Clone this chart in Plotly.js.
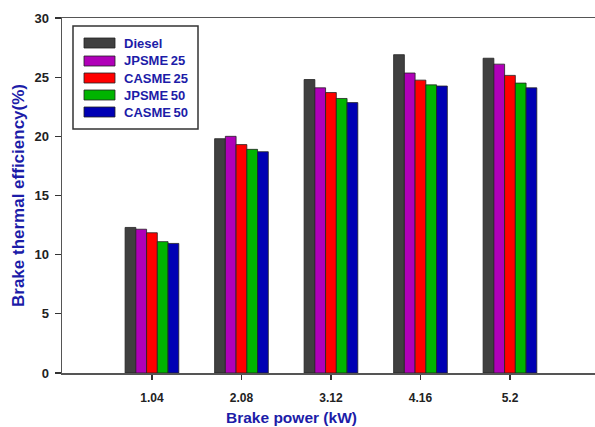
<!DOCTYPE html>
<html>
<head>
<meta charset="utf-8">
<script src="https://cdn.plot.ly/plotly-3.0.1.min.js"></script>
<style>html,body{margin:0;padding:0;background:#fff;overflow:hidden}</style>
</head>
<body>
<div id="chart" style="width:595px;height:427px"></div>
<script>
const categories = ["1.04", "2.08", "3.12", "4.16", "5.2"];
const seriesNames = ["Diesel", "JPSME 25", "CASME 25", "JPSME 50", "CASME 50"];
const diesel  = [12.3, 19.8, 24.8, 26.9, 26.6];
const jpsme25 = [12.15, 20.0, 24.1, 25.35, 26.1];
const casme25 = [11.85, 19.3, 23.7, 24.75, 25.15];
const jpsme50 = [11.1, 18.9, 23.2, 24.35, 24.5];
const casme50 = [10.95, 18.7, 22.85, 24.25, 24.1];
const seriesValues = [diesel, jpsme25, casme25, jpsme50, casme50];
const colors = ["#404040", "#b000b8", "#ff0000", "#00b400", "#0000b4"];
const yTicks = [0, 5, 10, 15, 20, 25, 30];

const titleBlue = "#1c1ca8";
const fontFam = "Liberation Sans, Arial, sans-serif";

const traces = seriesNames.map((n, i) => ({
  type: "bar",
  name: n,
  x: categories,
  y: seriesValues[i],
  marker: {color: colors[i], line: {color: "#222", width: 0.8}},
  showlegend: false
}));

// manual legend
const L = 62, W = 533, T = 18, H = 355;
const px = v => (v - L) / W;
const py = v => (T + H - v) / H;
const shapes = [{
  type: "rect", xref: "paper", yref: "paper",
  x0: px(73), x1: px(198), y0: py(26), y1: py(129),
  line: {color: "#333", width: 1.5}, fillcolor: "#fff"
}];
const annotations = [];
const rowY = [43, 61, 78, 95, 112];
seriesNames.forEach((n, i) => {
  shapes.push({
    type: "rect", xref: "paper", yref: "paper",
    x0: px(84), x1: px(115), y0: py(rowY[i] - 5), y1: py(rowY[i] + 5),
    line: {color: "#222", width: 0.8}, fillcolor: colors[i]
  });
  annotations.push({
    xref: "paper", yref: "paper", x: px(122), y: py(rowY[i]),
    xanchor: "left", yanchor: "middle", showarrow: false,
    text: "<b>" + n.replace(" ", "\u2009") + "</b>",
    font: {family: fontFam, size: 13, color: titleBlue}
  });
});
annotations.push({
  xref: "paper", yref: "paper", x: px(291), y: py(417),
  xanchor: "center", yanchor: "middle", showarrow: false,
  text: "<b>Brake power (kW)</b>",
  font: {family: fontFam, size: 15.5, color: titleBlue}
});
annotations.push({
  xref: "paper", yref: "paper", x: px(18), y: py(196),
  xanchor: "center", yanchor: "middle", showarrow: false, textangle: -90,
  text: "<b>Brake thermal efficiency(%)</b>",
  font: {family: fontFam, size: 17, color: titleBlue}
});

const layout = {
  width: 595, height: 427,
  margin: {l: 62, r: 0, t: 18, b: 54},
  paper_bgcolor: "#fff", plot_bgcolor: "#fff",
  barmode: "group", bargap: 0.4, bargroupgap: 0,
  font: {family: fontFam, color: "#222"},
  xaxis: {
    type: "category", range: [-1.005, 4.95],
    showline: true, linecolor: "#555", linewidth: 1.5, mirror: true,
    ticks: "outside", ticklen: 5, tickcolor: "#333", tickwidth: 1.2,
    showgrid: false, zeroline: false,
    tickfont: {family: fontFam, size: 12, color: "#222", weight: "bold"},
    ticklabelstandoff: 8
  },
  yaxis: {
    range: [0, 30], tickvals: yTicks,
    showline: true, linecolor: "#555", linewidth: 1.5,
    ticks: "outside", ticklen: 6, tickcolor: "#333", tickwidth: 1.2,
    showgrid: false, zeroline: false,
    tickfont: {family: fontFam, size: 13, color: "#222", weight: "bold"},
    ticklabelstandoff: 3
  },
  shapes: shapes,
  annotations: annotations
};

Plotly.newPlot("chart", traces, layout, {displayModeBar: false, staticPlot: true});
</script>
</body>
</html>
